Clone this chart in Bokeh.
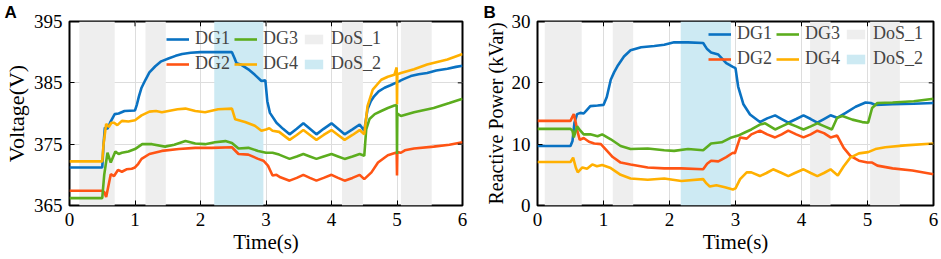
from bokeh.plotting import figure
from bokeh.models import (Range1d, FixedTicker, Legend, LegendItem, Title)
from bokeh.layouts import row
from bokeh.embed import file_html
from bokeh.resources import INLINE

# ---------------- data: panel A (Voltage) ----------------
t_v1 = [0, 0.5, 0.52, 0.54, 0.58, 0.62, 0.69, 0.75, 0.84, 1.0, 1.03, 1.06, 1.1, 1.16, 1.22, 1.31, 1.4, 1.52, 1.62,
        1.72, 1.85, 2.0, 2.2, 2.48, 2.52, 2.55, 2.63, 2.73, 2.83, 2.93, 2.99, 3.02, 3.06, 3.16, 3.26, 3.36, 3.47,
        3.57, 3.67, 3.77, 3.88, 4.0, 4.1, 4.2, 4.32, 4.43, 4.5, 4.55, 4.6, 4.65, 4.72, 4.81, 4.9, 4.98, 5.1, 5.21,
        5.33, 5.46, 5.6, 5.77, 5.9, 6.0]
v_dg1 = [371.2, 371.2, 375.0, 377.7, 377.5, 378.5, 379.9, 380.0, 380.4, 380.5, 381.5, 382.8, 384.2, 385.5, 386.7,
         387.7, 388.5, 389.0, 389.4, 389.7, 389.9, 390.0, 390.0, 390.0, 389.0, 388.2, 387.9, 387.2, 386.3, 385.3,
         385.4, 382.0, 380.1, 378.5, 377.5, 376.6, 377.5, 378.4, 377.5, 376.6, 377.5, 378.4, 377.5, 376.6, 377.4,
         378.2, 377.2, 380.7, 382.0, 382.8, 383.6, 384.2, 384.6, 385.0, 385.6, 386.1, 386.4, 386.6, 387.0, 387.3,
         387.6, 387.8]

t_v2 = [0, 0.5, 0.53, 0.56, 0.6, 0.63, 0.68, 0.74, 0.8, 0.87, 0.95, 1.0, 1.05, 1.1, 1.22, 1.41, 1.67, 1.92, 2.17,
        2.48, 2.58, 2.73, 2.88, 2.96, 3.03, 3.1, 3.16, 3.22, 3.36, 3.47, 3.57, 3.67, 3.77, 3.88, 4.0, 4.1, 4.2,
        4.32, 4.43, 4.5, 4.61, 4.71, 4.86, 4.98, 4.995, 5.0, 5.005, 5.06, 5.12, 5.26, 5.56, 5.8, 6.0]
v_dg2 = [367.4, 367.4, 367.2, 366.4, 368.5, 370.1, 369.8, 370.8, 370.5, 370.9, 371.0, 371.2, 371.8, 372.6, 373.4,
         373.9, 374.2, 374.4, 374.4, 374.5, 373.4, 373.3, 372.6, 372.3, 371.5, 369.9, 370.0, 369.6, 369.05, 369.5,
         370.0, 369.5, 369.05, 369.5, 370.0, 369.5, 369.05, 369.5, 370.0, 369.3, 370.4, 372.0, 373.2, 373.6, 373.6,
         369.9, 373.7, 373.6, 374.0, 374.3, 374.6, 374.9, 375.3]

t_v3 = [0, 0.5, 0.53, 0.58, 0.63, 0.7, 0.75, 0.8, 0.9, 1.0, 1.11, 1.26, 1.46, 1.6, 1.77, 1.92, 2.07, 2.22, 2.38,
        2.48, 2.58, 2.73, 2.88, 3.0, 3.1, 3.2, 3.36, 3.47, 3.57, 3.67, 3.77, 3.88, 4.0, 4.1, 4.2, 4.32, 4.43, 4.5,
        4.53, 4.58, 4.66, 4.76, 4.86, 4.96, 4.995, 5.0, 5.005, 5.06, 5.26, 5.56, 5.8, 6.0]
v_dg3 = [366.2, 366.2, 370.0, 373.6, 372.0, 373.8, 373.4, 373.6, 373.8, 374.2, 375.0, 375.0, 374.6, 374.9, 375.5,
         375.1, 375.0, 375.3, 375.5, 375.2, 374.3, 374.4, 373.9, 373.6, 373.6, 373.3, 372.6, 373.0, 373.4, 373.0,
         372.6, 373.0, 373.4, 373.0, 372.6, 373.0, 373.4, 373.1, 377.4, 379.1, 379.9, 380.4, 380.9, 381.3, 381.4,
         373.4, 380.0, 379.6, 380.2, 380.9, 381.7, 382.4]

t_v4 = [0, 0.5, 0.52, 0.56, 0.6, 0.64, 0.68, 0.73, 0.8, 0.9, 1.0, 1.1, 1.22, 1.32, 1.41, 1.55, 1.65, 1.77, 1.92,
        2.07, 2.27, 2.48, 2.53, 2.68, 2.83, 2.93, 3.0, 3.05, 3.1, 3.2, 3.36, 3.47, 3.57, 3.67, 3.77, 3.88, 4.0,
        4.1, 4.2, 4.32, 4.43, 4.5, 4.55, 4.63, 4.76, 4.86, 4.96, 4.995, 5.0, 5.005, 5.06, 5.26, 5.46, 5.77, 6.0]
v_dg4 = [372.2, 372.2, 375.0, 378.3, 377.8, 378.5, 378.5, 378.1, 378.8, 378.7, 378.9, 379.7, 380.3, 380.4, 380.2,
         380.5, 380.7, 380.8, 380.4, 380.2, 380.7, 380.8, 379.05, 378.6, 378.0, 377.2, 377.4, 377.6, 377.2, 377.0,
         375.7, 376.5, 377.3, 376.5, 375.7, 376.5, 377.3, 376.5, 375.7, 376.5, 377.3, 376.6, 381.2, 383.9, 385.5,
         386.0, 386.3, 387.5, 381.5, 386.4, 386.6, 387.2, 388.0, 388.8, 389.7]

dos1_left_a = [0.15, 1.16, 4.16, 5.06]
dos1_right_a = [0.69, 1.47, 4.48, 5.53]
dos2_left_a = [2.21]
dos2_right_a = [2.96]

# ---------------- data: panel B (Reactive power) ----------------
t_q1 = [0, 0.5, 0.53, 0.56, 0.6, 0.65, 0.7, 0.75, 0.8, 0.91, 1.0, 1.05, 1.11, 1.16, 1.21, 1.31, 1.41, 1.57, 1.77,
        1.92, 2.07, 2.28, 2.51, 2.57, 2.63, 2.74, 2.86, 2.96, 3.0, 3.04, 3.12, 3.22, 3.37, 3.48, 3.6, 3.7, 3.8,
        3.92, 4.03, 4.14, 4.24, 4.34, 4.44, 4.54, 4.67, 4.82, 4.97, 5.05, 5.12, 5.38, 5.7, 6.0]
q_dg1 = [9.7, 9.7, 10.5, 13.5, 14.9, 15.1, 15.0, 15.6, 16.2, 16.3, 16.4, 17.7, 20.5, 21.7, 22.7, 24.3, 25.3, 25.8,
         26.0, 26.2, 26.6, 26.6, 26.5, 25.5, 24.95, 24.6, 23.2, 22.6, 22.4, 19.4, 16.5, 14.85, 13.6, 14.2, 14.7,
         14.1, 13.5, 14.1, 14.7, 14.1, 13.5, 14.1, 14.7, 14.3, 15.1, 16.1, 16.8, 16.7, 16.4, 16.5, 16.6, 16.7]

t_q2 = [0, 0.5, 0.53, 0.55, 0.58, 0.6, 0.64, 0.7, 0.78, 0.86, 0.96, 1.03, 1.14, 1.26, 1.41, 1.67, 1.92, 2.18, 2.51,
        2.57, 2.63, 2.74, 2.86, 2.96, 2.99, 3.07, 3.17, 3.24, 3.37, 3.48, 3.6, 3.7, 3.8, 3.92, 4.03, 4.14, 4.24,
        4.34, 4.44, 4.54, 4.64, 4.74, 4.87, 5.0, 5.07, 5.15, 5.38, 5.68, 6.0]
q_dg2 = [13.8, 13.8, 14.5, 14.9, 13.5, 12.3, 10.7, 11.0, 10.4, 10.1, 10.0, 9.2, 7.9, 7.0, 6.7, 6.2, 6.05, 6.05,
         5.9, 6.8, 7.3, 7.2, 7.9, 8.6, 8.5, 11.1, 10.9, 11.6, 12.2, 11.6, 11.1, 11.6, 12.2, 11.6, 11.1, 11.6,
         12.2, 11.8, 11.1, 11.4, 9.4, 8.1, 7.3, 7.0, 7.0, 6.5, 6.05, 5.7, 5.1]

t_q3 = [0, 0.5, 0.53, 0.55, 0.6, 0.65, 0.7, 0.8, 0.91, 0.98, 1.11, 1.26, 1.41, 1.67, 1.92, 2.07, 2.28, 2.51, 2.63,
        2.79, 2.94, 3.04, 3.14, 3.24, 3.37, 3.45, 3.6, 3.7, 3.8, 3.92, 4.03, 4.14, 4.24, 4.35, 4.46, 4.54, 4.62,
        4.77, 4.92, 5.01, 5.07, 5.15, 5.38, 5.7, 6.0]
q_dg3 = [12.5, 12.5, 12.2, 11.1, 12.9, 12.2, 11.6, 11.6, 11.3, 11.6, 10.8, 9.7, 9.2, 9.3, 9.0, 8.9, 9.2, 9.0,
         10.1, 10.3, 11.1, 11.4, 11.9, 12.4, 13.2, 13.4, 12.4, 12.9, 13.4, 12.9, 12.4, 12.9, 13.4, 12.9, 12.4,
         14.3, 14.6, 14.0, 13.6, 13.5, 15.9, 16.7, 16.8, 17.0, 17.4]

t_q4 = [0, 0.5, 0.54, 0.58, 0.61, 0.68, 0.75, 0.83, 0.9, 0.98, 1.11, 1.26, 1.41, 1.67, 1.92, 2.18, 2.51, 2.56,
        2.61, 2.71, 2.84, 2.96, 3.0, 3.07, 3.17, 3.24, 3.37, 3.47, 3.57, 3.7, 3.8, 3.9, 4.03, 4.14, 4.24, 4.34,
        4.44, 4.55, 4.64, 4.74, 4.87, 5.01, 5.12, 5.27, 5.57, 6.0]
q_dg4 = [7.1, 7.1, 7.8, 6.2, 5.4, 6.2, 6.0, 6.7, 6.4, 6.6, 6.1, 5.0, 4.4, 4.2, 4.4, 4.0, 4.3, 3.6, 3.1, 3.3, 2.97,
         2.6, 2.8, 4.3, 5.4, 5.4, 4.8, 5.3, 5.9, 5.3, 4.8, 5.3, 5.9, 5.3, 4.8, 5.3, 5.9, 4.9, 6.4, 7.8, 8.5, 8.7,
         9.2, 9.5, 9.8, 10.1]

dos1_left_b = [0.11, 1.14, 4.13, 5.04]
dos1_right_b = [0.67, 1.45, 4.44, 5.49]
dos2_left_b = [2.17]
dos2_right_b = [2.93]

x_ticks = [0, 1, 2, 3, 4, 5, 6]
v_ticks = [365, 375, 385, 395]
q_ticks = [0, 10, 20, 30]

series_names = ["DG1", "DG2", "DG3", "DG4"]
colors = ["#0A72C2", "#FF5414", "#5CAD1E", "#FFB000"]
dos_names = ["DoS_1", "DoS_2"]
dos_colors = ["#EEEEEE", "#CDEAF3"]

SERIF = "Liberation Serif"
X_LO, X_HI = 0, 6


def make_panel(width, ts, ys, y_lo, y_hi, y_ticks, ylabel, ylabel_size, d1l, d1r, d2l, d2r, leg_loc,
               letter, letter_x):
    title = Title(text=letter, align="left", offset=letter_x, standoff=0,
                  text_font="Liberation Sans", text_font_style="bold", text_font_size="17px",
                  text_color="black")
    p = figure(width=width, height=259, output_backend="svg", toolbar_location=None, title=title,
               x_range=Range1d(X_LO, X_HI), y_range=Range1d(y_lo, y_hi),
               min_border_left=67, min_border_right=8, min_border_top=20, min_border_bottom=54)
    p.background_fill_color = "white"
    p.border_fill_color = "white"
    p.outline_line_color = "black"
    p.outline_line_width = 2

    r_d1 = p.quad(left=d1l, right=d1r, bottom=y_lo, top=y_hi, fill_color=dos_colors[0],
                  line_color=None)
    r_d2 = p.quad(left=d2l, right=d2r, bottom=y_lo, top=y_hi, fill_color=dos_colors[1],
                  line_color=None)
    lines = []
    for t, y, c in zip(ts, ys, colors):
        lines.append(p.line(t, y, line_color=c, line_width=2.6))

    # inward tick marks on the top and right edges, at the axis tick positions
    tick_dy = (y_hi - y_lo) * 0.026
    tick_dx = (X_HI - X_LO) * 0.012
    p.segment(x0=x_ticks, y0=[y_hi] * len(x_ticks), x1=x_ticks, y1=[y_hi - tick_dy] * len(x_ticks),
              line_color="black", line_width=1)
    p.segment(x0=[X_HI] * len(y_ticks), y0=y_ticks, x1=[X_HI - tick_dx] * len(y_ticks), y1=y_ticks,
              line_color="black", line_width=1)

    p.xaxis.ticker = FixedTicker(ticks=x_ticks)
    p.yaxis.ticker = FixedTicker(ticks=y_ticks)
    for ax in (p.xaxis[0], p.yaxis[0]):
        ax.axis_line_color = None
        ax.major_tick_in = 5
        ax.major_tick_out = 0
        ax.minor_tick_line_color = None
        ax.major_tick_line_color = "black"
        ax.major_label_text_font = SERIF
        ax.major_label_text_font_size = "19px"
        ax.major_label_text_color = "black"
        ax.axis_label_text_font = SERIF
        ax.axis_label_text_font_style = "normal"
        ax.axis_label_text_color = "black"
        ax.major_label_standoff = 7
    p.xaxis.axis_label = "Time(s)"
    p.xaxis.axis_label_text_font_size = "21px"
    p.xaxis.axis_label_standoff = 1
    p.yaxis.axis_label = ylabel
    p.yaxis.axis_label_text_font_size = ylabel_size
    p.yaxis.axis_label_standoff = 2

    p.xgrid.grid_line_color = "#DDDDDD"
    p.ygrid.grid_line_color = "#DDDDDD"
    p.xgrid.grid_line_width = 1
    p.ygrid.grid_line_width = 1

    items = [LegendItem(label=n, renderers=[r]) for n, r in zip(series_names, lines)]
    items += [LegendItem(label=dos_names[0], renderers=[r_d1]), LegendItem(label=dos_names[1], renderers=[r_d2])]
    leg = Legend(items=items, location=leg_loc, orientation="vertical", nrows=2,
                 border_line_color=None, background_fill_alpha=0, padding=0, margin=0,
                 spacing=4, glyph_width=23, glyph_height=12, label_standoff=6,
                 label_text_font=SERIF, label_text_font_size="18px", label_height=20)
    p.add_layout(leg)
    return p


pa = make_panel(470, [t_v1, t_v2, t_v3, t_v4], [v_dg1, v_dg2, v_dg3, v_dg4], 365, 395, v_ticks,
                "Voltage(V)", "22px", dos1_left_a, dos1_right_a, dos2_left_a, dos2_right_a, (97, 131), "A", -65)
pb = make_panel(471, [t_q1, t_q2, t_q3, t_q4], [q_dg1, q_dg2, q_dg3, q_dg4], 0, 30, q_ticks,
                "Reactive Power (kVar)", "20px", dos1_left_b, dos1_right_b, dos2_left_b, dos2_right_b,
                (171, 136), "B", -54)

layout = row(pa, pb)
open("out.html", "w").write(file_html(layout, INLINE))
